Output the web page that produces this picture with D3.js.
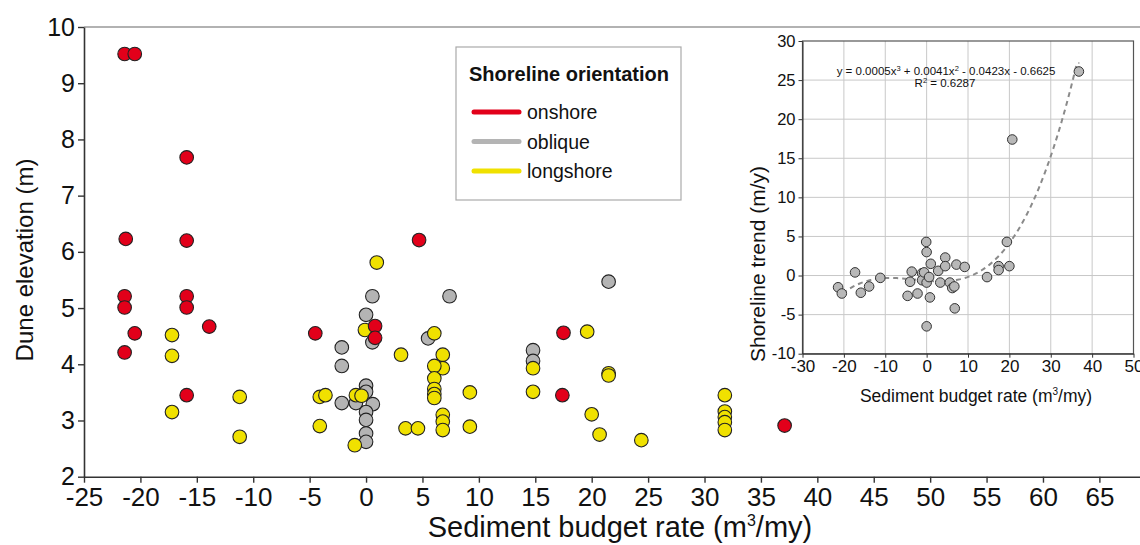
<!DOCTYPE html>
<html>
<head>
<meta charset="utf-8">
<script src="https://cdn.jsdelivr.net/npm/d3@7"></script>
<style>
  body { margin: 0; background: #fff; }
  svg { display: block; font-family: Arial, "Liberation Sans", sans-serif; }
  .axis path, .axis line { stroke: #333; }
  .axis text { fill: #111; }
</style>
</head>
<body>
<div id="chart"></div>
<script>
// main chart data (sediment budget rate, dune elevation)
var onshoreX = [-21.4, -20.5, -15.9, -21.3, -15.9, -21.4, -21.4, -20.5, -21.4, -15.9, -15.9, -13.9, -15.9, -4.5, 0.8, 0.8, 4.7, 17.5, 17.4, 37.1]
var onshoreY = [9.52, 9.52, 7.68, 6.23, 6.20, 5.21, 5.01, 4.55, 4.21, 5.21, 5.01, 4.67, 3.45, 4.55, 4.68, 4.47, 6.21, 4.56, 3.45, 2.91]

var obliqueX = [-2.15, -2.15, -2.15, -0.9, 0, 0, 0.6, 0, 0, 0, 0, 0, 0.56, 0.56, 5.5, 7.4, 14.8, 14.8, 21.5]
var obliqueY = [4.30, 3.97, 3.31, 3.31, 3.62, 3.51, 3.29, 3.15, 3.01, 2.77, 2.62, 4.88, 5.21, 4.39, 4.46, 5.21, 4.25, 4.06, 5.47]

var longshoreX = [-17.2, -17.2, -17.2, -11.2, -11.2, -4.1, -3.6, -4.1, -0.9, -0.4, -1.0, -0.1, 0.95, 3.1, 3.5, 4.6,
  6.05, 6.8, 6.8, 6.05, 6.05, 6.05, 6.05, 6.05, 6.8, 6.8, 6.8, 9.2, 9.2, 14.8, 14.8, 19.6, 21.5, 21.5, 20.0, 20.7, 24.4,
  31.8, 31.8, 31.8, 31.8, 31.8]
var longshoreY = [4.52, 4.15, 3.15, 3.42, 2.71, 3.42, 3.45, 2.90, 3.45, 3.44, 2.56, 4.61, 5.81, 4.17, 2.86, 2.86,
  4.55, 4.17, 3.93, 3.97, 3.75, 3.56, 3.47, 3.40, 3.10, 2.98, 2.83, 3.50, 2.89, 3.93, 3.51, 4.58, 3.84, 3.80, 3.11, 2.75, 2.65,
  3.45, 3.16, 3.06, 2.97, 2.83]

var xTicks = d3.range(-25, 70, 5)
var yTicks = d3.range(2, 11, 1)

// inset data (sediment budget rate, shoreline trend)
var insetX = [-21.4, -20.5, -17.3, -15.9, -13.9, -11.2, -4.6, -4.0, -3.6, -2.2, -1.1, -1.1, -0.6, -0.1, 0, 0, 0,
  0.6, 0.8, 1.0, 2.8, 3.3, 4.5, 4.5, 5.6, 6.2, 6.7, 6.8, 7.2, 9.2, 14.6, 17.4, 17.4, 19.4, 20.0, 20.7, 36.8]
var insetY = [-1.5, -2.3, 0.4, -2.2, -1.4, -0.3, -2.6, -0.8, 0.5, -2.3, 0.3, -0.6, 0.4, 4.3, 3.0, -0.9, -6.5,
  -0.2, -2.8, 1.5, 0.6, -0.9, 2.3, 1.2, -0.9, -1.6, -1.4, -4.2, 1.4, 1.1, -0.2, 1.2, 0.7, 4.3, 1.2, 17.4, 26.1]
var insetXTicks = d3.range(-30, 60, 10)
var insetYTicks = d3.range(-10, 35, 5)
// trendline coefficients as printed on the chart (x^3, x^2, x, const)
var trendCoef = [0.0005, 0.0041, -0.0423, -0.6625]
var trendRange = [-20.3, 36.9]

var categories = ['onshore', 'oblique', 'longshore']
var colors = { onshore: '#e2001a', oblique: '#b4b4b4', longshore: '#f0e100' }

var W = 1140, H = 545
var plain = function (d) { return String(d) } // hyphen minus like the original

var svg = d3.select('#chart').append('svg')
  .attr('width', W)
  .attr('height', H)

svg.append('rect').attr('width', W).attr('height', H).attr('fill', '#fff')

// Scales
var x = d3.scaleLinear().domain([-25, 68.6]).range([84, 1140])
var y = d3.scaleLinear().domain([2, 10]).range([476.7, 27])

// top border
svg.append('line')
  .attr('x1', x(-25)).attr('x2', W)
  .attr('y1', y(10)).attr('y2', y(10))
  .attr('stroke', '#999').attr('stroke-width', 1.5)

// X-axis
var gx = svg.append('g')
  .attr('class', 'axis')
  .attr('transform', 'translate(0,' + y(2) + ')')
  .call(d3.axisBottom(x).tickValues(xTicks).tickFormat(plain).tickSize(6).tickSizeOuter(0).tickPadding(5))
gx.select('.domain').attr('stroke-width', 1.6)
gx.selectAll('.tick line').attr('stroke-width', 1.4)
gx.selectAll('text').style('font-size', '26px')

// Y-axis
var gy = svg.append('g')
  .attr('class', 'axis')
  .attr('transform', 'translate(' + x(-25) + ',0)')
  .call(d3.axisLeft(y).tickValues(yTicks).tickFormat(plain).tickSize(6).tickSizeOuter(0).tickPadding(3))
gy.select('.domain').attr('stroke-width', 1.6)
gy.selectAll('.tick line').attr('stroke-width', 1.4)
gy.selectAll('text').style('font-size', '25px')

// axis titles
svg.append('text')
  .attr('x', 620).attr('y', 537)
  .attr('text-anchor', 'middle')
  .style('font-size', '29px')
  .attr('fill', '#111')
  .html('Sediment budget rate (m<tspan dy="-11" font-size="16px">3</tspan><tspan dy="11">/my)</tspan>')

svg.append('text')
  .attr('transform', 'translate(33,260) rotate(-90)')
  .attr('text-anchor', 'middle')
  .style('font-size', '24px')
  .attr('fill', '#111')
  .text('Dune elevation (m)')

// points: draw oblique, longshore, onshore
var series = {
  onshore: d3.zip(onshoreX, onshoreY),
  oblique: d3.zip(obliqueX, obliqueY),
  longshore: d3.zip(longshoreX, longshoreY)
}
;['oblique', 'longshore', 'onshore'].forEach(function (key) {
  svg.append('g').selectAll('circle')
    .data(series[key])
    .enter()
    .append('circle')
    .attr('cx', function (d) { return x(d[0]) })
    .attr('cy', function (d) { return y(d[1]) })
    .attr('r', 6.8)
    .attr('fill', colors[key])
    .attr('stroke', '#222')
    .attr('stroke-width', 1.1)
})

// Legend
var legend = svg.append('g')
legend.append('rect')
  .attr('x', 456).attr('y', 47)
  .attr('width', 225).attr('height', 153)
  .attr('fill', '#fff').attr('stroke', '#aaa').attr('stroke-width', 1.2)
legend.append('text')
  .attr('x', 469).attr('y', 81)
  .style('font-size', '20px').style('font-weight', 'bold')
  .attr('fill', '#111')
  .text('Shoreline orientation')
categories.forEach(function (c, i) {
  var ly = 112 + i * 29.5
  legend.append('line')
    .attr('x1', 474).attr('x2', 519)
    .attr('y1', ly).attr('y2', ly)
    .attr('stroke', colors[c]).attr('stroke-width', 5)
    .attr('stroke-linecap', 'round')
  legend.append('text')
    .attr('x', 527).attr('y', ly + 7)
    .style('font-size', '19.5px')
    .attr('fill', '#111')
    .text(c)
})

// ---- Inset ----
var ix = d3.scaleLinear().domain([-30, 50]).range([802.5, 1133.5])
var iy = d3.scaleLinear().domain([-10, 30]).range([353.7, 41])

var inset = svg.append('g')

// gridlines
inset.append('g').selectAll('line')
  .data(insetXTicks.slice(1, -1))
  .enter().append('line')
  .attr('x1', function (d) { return ix(d) }).attr('x2', function (d) { return ix(d) })
  .attr('y1', iy(-10)).attr('y2', iy(30))
  .attr('stroke', '#c8c8c8').attr('stroke-width', 1)
inset.append('g').selectAll('line')
  .data(insetYTicks.slice(1, -1))
  .enter().append('line')
  .attr('x1', ix(-30)).attr('x2', ix(50))
  .attr('y1', function (d) { return iy(d) }).attr('y2', function (d) { return iy(d) })
  .attr('stroke', '#c8c8c8').attr('stroke-width', 1)

// frame
inset.append('rect')
  .attr('x', ix(-30)).attr('y', iy(30))
  .attr('width', ix(50) - ix(-30)).attr('height', iy(-10) - iy(30))
  .attr('fill', 'none').attr('stroke', '#555').attr('stroke-width', 1.2)

var igx = inset.append('g')
  .attr('class', 'axis')
  .attr('transform', 'translate(0,' + iy(-10) + ')')
  .call(d3.axisBottom(ix).tickValues(insetXTicks).tickFormat(plain).tickSize(4).tickSizeOuter(0).tickPadding(2))
igx.select('.domain').attr('stroke', '#555')
igx.selectAll('.tick line').attr('stroke', '#555')
igx.selectAll('text').style('font-size', '17px')

var igy = inset.append('g')
  .attr('class', 'axis')
  .attr('transform', 'translate(' + ix(-30) + ',0)')
  .call(d3.axisLeft(iy).tickValues(insetYTicks).tickFormat(plain).tickSize(4).tickSizeOuter(0).tickPadding(3))
igy.select('.domain').attr('stroke', '#555')
igy.selectAll('.tick line').attr('stroke', '#555')
igy.selectAll('text').style('font-size', '16.5px')

inset.append('text')
  .attr('x', 976).attr('y', 402)
  .attr('text-anchor', 'middle')
  .style('font-size', '17.5px')
  .attr('fill', '#111')
  .html('Sediment budget rate (m<tspan dy="-7" font-size="10px">3</tspan><tspan dy="7">/my)</tspan>')

inset.append('text')
  .attr('transform', 'translate(765,264) rotate(-90)')
  .attr('text-anchor', 'middle')
  .style('font-size', '21px')
  .attr('fill', '#111')
  .text('Shoreline trend (m/y)')

// trendline
var trendPts = d3.range(trendRange[0], trendRange[1], 0.5).concat([trendRange[1]])
  .map(function (v) {
    return [v, trendCoef[0] * v * v * v + trendCoef[1] * v * v + trendCoef[2] * v + trendCoef[3]]
  })
var trendLine = d3.line()
  .x(function (d) { return ix(d[0]) })
  .y(function (d) { return iy(Math.min(d[1], 27.2)) })
inset.append('path')
  .attr('d', trendLine(trendPts))
  .attr('fill', 'none')
  .attr('stroke', '#8a8a8a')
  .attr('stroke-width', 2)
  .attr('stroke-dasharray', '5,4')

inset.append('g').selectAll('circle')
  .data(d3.zip(insetX, insetY))
  .enter().append('circle')
  .attr('cx', function (d) { return ix(d[0]) })
  .attr('cy', function (d) { return iy(d[1]) })
  .attr('r', 4.8)
  .attr('fill', '#b8b8b8')
  .attr('stroke', '#333')
  .attr('stroke-width', 1)

// equation text
inset.append('text')
  .attr('x', 946).attr('y', 75)
  .attr('text-anchor', 'middle')
  .style('font-size', '11.5px')
  .attr('fill', '#111')
  .html('y = 0.0005x<tspan dy="-4" font-size="7.5px">3</tspan><tspan dy="4"> + 0.0041x</tspan><tspan dy="-4" font-size="7.5px">2</tspan><tspan dy="4"> - 0.0423x - 0.6625</tspan>')
inset.append('text')
  .attr('x', 945).attr('y', 87)
  .attr('text-anchor', 'middle')
  .style('font-size', '11.5px')
  .attr('fill', '#111')
  .html('R<tspan dy="-4" font-size="7.5px">2</tspan><tspan dy="4"> = 0.6287</tspan>')
</script>
</body>
</html>
